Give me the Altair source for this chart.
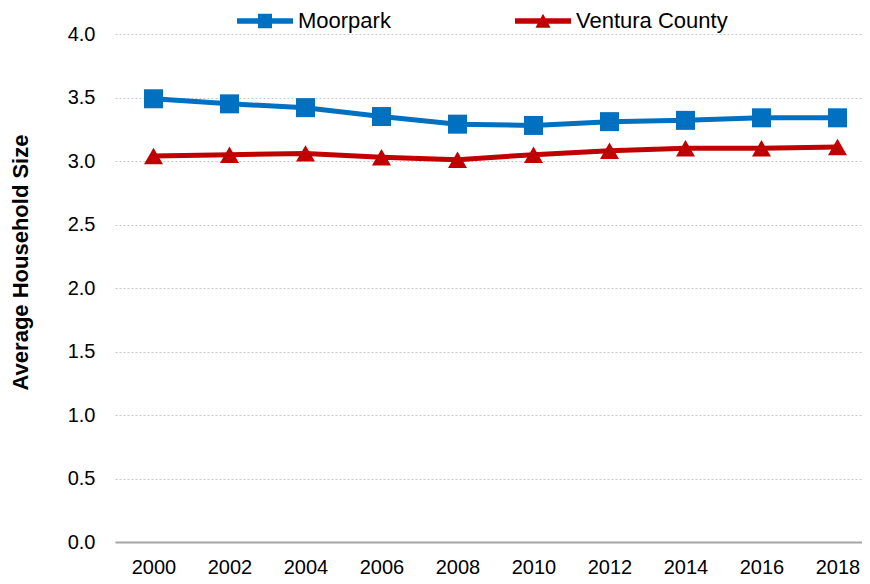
import altair as alt
import pandas as pd

years = ["2000", "2002", "2004", "2006", "2008", "2010", "2012", "2014", "2016", "2018"]
moorpark = [3.49, 3.45, 3.42, 3.35, 3.29, 3.28, 3.31, 3.32, 3.34, 3.34]
ventura = [3.04, 3.05, 3.06, 3.03, 3.01, 3.05, 3.08, 3.10, 3.10, 3.11]
series_names = ["Moorpark", "Ventura County"]
colors = ["#0070C0", "#C00000"]
y_ticks = [0, 0.5, 1.0, 1.5, 2.0, 2.5, 3.0, 3.5, 4.0]

df = pd.DataFrame({
    "year": years * 2,
    "value": moorpark + ventura,
    "series": [series_names[0]] * len(years) + [series_names[1]] * len(years),
})

legend_paths = [
    "M-2,-0.2L2,-0.2L2,0.2L-2,0.2Z M-0.5,-0.52L0.5,-0.52L0.5,0.52L-0.5,0.52Z",
    "M-2,-0.2L2,-0.2L2,0.2L-2,0.2Z M-0.54,0.48L0,-0.52L0.54,0.48Z",
]

x = alt.X("year:O", sort=years,
          scale=alt.Scale(type="point", padding=0.4145, align=0.611),
          axis=alt.Axis(
              title=None, labelAngle=0, ticks=False, grid=False,
              labelFont="Liberation Sans", labelFontSize=20, labelColor="#000000",
              labelPadding=15, domainColor="#a6a6a6", domainWidth=2,
          ))
y = alt.Y("value:Q", scale=alt.Scale(domain=[0, 4], nice=False), axis=alt.Axis(
    title="Average Household Size", values=y_ticks, format=".1f",
    ticks=False, domain=False, grid=True, gridColor="#c8c8c8", gridDash=[2, 2],
    gridWidth=1, labelFont="Liberation Sans", labelFontSize=20, labelColor="#000000",
    labelPadding=20, titleFont="Liberation Sans", titleFontSize=22,
    titleFontWeight="bold", titleColor="#000000", titlePadding=35, titleY=228,
))

cscale = alt.Scale(domain=series_names, range=colors)

legend_cfg = dict(
    title=None, orient="none", legendX=136, legendY=-27, direction="horizontal",
    symbolSize=784, labelFont="Liberation Sans", labelFontSize=22,
    labelColor="#000000", columnPadding=124, padding=0, labelOffset=19,
    symbolStrokeWidth=0,
)

line = alt.Chart(df).mark_line(strokeWidth=5).encode(
    x=x, y=y, color=alt.Color("series:N", scale=cscale, legend=None),
)
pts = alt.Chart(df).mark_point(filled=True, opacity=1, size=361).encode(
    x=x, y=y,
    color=alt.Color("series:N", scale=cscale, legend=None),
    shape=alt.Shape("series:N", scale=alt.Scale(domain=series_names, range=["square", "triangle-up"]), legend=None),
)
leg = alt.Chart(df).transform_filter("false").mark_point(filled=True, opacity=1).encode(
    x=x, y=y,
    color=alt.Color("series:N", scale=cscale, legend=alt.Legend(**legend_cfg)),
    shape=alt.Shape("series:N", scale=alt.Scale(domain=series_names, range=legend_paths),
                    legend=alt.Legend(**legend_cfg)),
)

chart = alt.layer(line, pts, leg).resolve_scale(
    color="independent", shape="independent"
).properties(
    width=747, height=508,
    autosize=alt.AutoSizeParams(type="none"),
    padding={"left": 107, "top": 26, "right": 0, "bottom": 34},
).configure_view(stroke=None)

chart.save("out.html", embed_options={"renderer": "svg", "actions": False})
